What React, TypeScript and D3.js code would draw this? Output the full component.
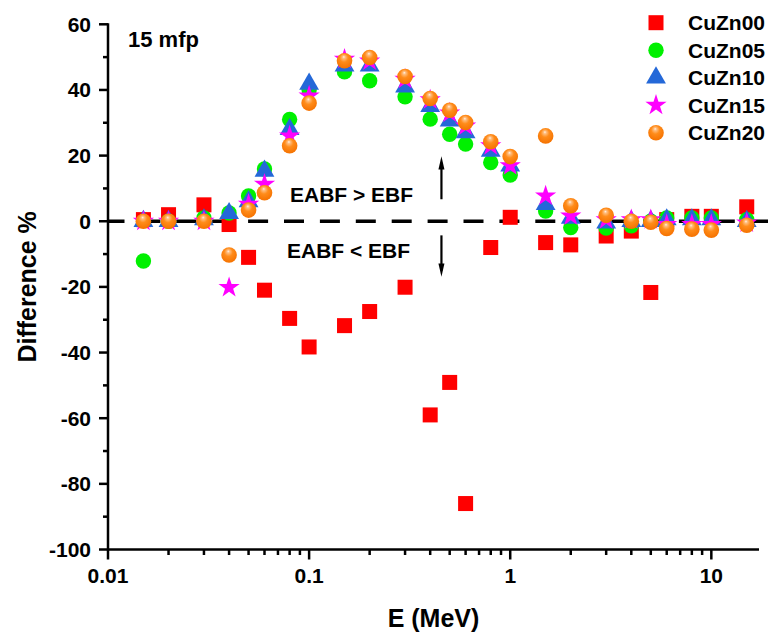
import React from "react";
import * as d3 from "d3";

const energies = [0.015, 0.02, 0.03, 0.04, 0.05, 0.06, 0.08, 0.1, 0.15, 0.2, 0.3, 0.4, 0.5, 0.6, 0.8, 1, 1.5, 2, 3, 4, 5, 6, 8, 10, 15];
const cuZn00 = [0.5, 2, 5, -1, -11, -21, -29.6, -38.3, -31.8, -27.5, -20.1, -59, -49.1, -86, -8, 1.2, -6.5, -7.2, -4.5, -3, -21.7, 0.5, 1.5, 1.5, 4.4];
const cuZn05 = [-12.1, 0, 1, 2.5, 7.7, 15.9, 31, 40, 45.5, 42.8, 37.9, 31.1, 26.5, 23.5, 17.9, 14.1, 3.1, -1.9, -2.1, -1.4, 0, 1, 1, 1, 0.5];
const cuZn10 = [0, 0, 0.5, 2.4, 6, 15.3, 28, 41.8, 47.4, 47.4, 41, 35, 30.6, 27, 21.4, 16.9, 5.2, 1, -0.5, 0, 0, 0.5, 0.5, 0.5, 0];
const cuZn15 = [0, 0, 0, -20.2, 5.2, 11.3, 26, 38.2, 49.4, 48.8, 43.3, 37, 33, 29, 23, 16.9, 7.7, 1.6, 0.5, 0.5, 0.5, -1, -1, -1, -0.5];
const cuZn20 = [0, 0, 0, -10.3, 3.4, 8.7, 23, 36, 48.9, 49.9, 44.1, 37.4, 33.8, 30.1, 24.2, 19.7, 26, 4.7, 1.8, 0, -0.3, -2.2, -2.4, -2.7, -1.2];

const seriesNames = ["CuZn00", "CuZn05", "CuZn10", "CuZn15", "CuZn20"];
const seriesValues = [cuZn00, cuZn05, cuZn10, cuZn15, cuZn20];
const seriesShapes = ["square", "circle", "triangle", "star", "ball"];
const seriesColors = ["#ff0000", "#00f000", "#2468d8", "#ff00ff", "#ff8000"];

const yMajorTicks = [60, 40, 20, 0, -20, -40, -60, -80, -100];
const xMajorTicks = [0.01, 0.1, 1, 10];
const xTickLabels = ["0.01", "0.1", "1", "10"];

const FONT = "'Liberation Sans', Arial, Helvetica, sans-serif";

function Marker({ shape, color, cx, cy }: { shape: string; color: string; cx: number; cy: number }) {
  if (shape === "square") {
    return <rect x={cx - 7.5} y={cy - 7.5} width={15} height={15} fill={color} />;
  }
  if (shape === "circle") {
    return <circle cx={cx} cy={cy} r={7.7} fill={color} />;
  }
  if (shape === "triangle") {
    const p = d3.symbol().type(d3.symbolTriangle).size(170)();
    return <path d={p || ""} transform={`translate(${cx},${cy})`} fill={color} />;
  }
  if (shape === "star") {
    const p = d3.symbol().type(d3.symbolStar).size(140)();
    return <path d={p || ""} transform={`translate(${cx},${cy})`} fill={color} />;
  }
  return <circle cx={cx} cy={cy} r={7.8} fill="url(#ballGrad)" />;
}

export default function App() {
  const left = 108, right = 759, top = 24.3, bottom = 549.5;
  const x = d3.scaleLog().domain([0.01, 17.26]).range([left, right]);
  const y = d3.scaleLinear().domain([-100, 60]).range([bottom, top]);

  const yMinor = d3.range(-90, 60, 20);
  const xMinor: number[] = [];
  [0.01, 0.1, 1, 10].forEach((d) => {
    for (let k = 2; k <= 9; k++) {
      const v = d * k;
      if (v <= 17.26) xMinor.push(v);
    }
  });

  const arrowX = x(0.455);
  const legendX = 656, legendY0 = 22.7, legendStep = 27.5;

  return (
    <svg width={770} height={635} style={{ position: "absolute", left: 0, top: 0, background: "#fff" }}>
      <defs>
        <radialGradient id="ballGrad" cx="0.48" cy="0.4" r="0.6" fx="0.45" fy="0.25">
          <stop offset="0" stopColor="#fff3e6" />
          <stop offset="0.15" stopColor="#ffbe80" />
          <stop offset="0.45" stopColor="#ff8c1a" />
          <stop offset="1" stopColor="#f57200" />
        </radialGradient>
      </defs>

      {/* zero dashed line */}
      <line x1={x(0.01)} x2={768} y1={y(0)} y2={y(0)} stroke="#000" strokeWidth={3.5}
        strokeDasharray="20,15.9" strokeDashoffset={3.5} />

      {/* data markers */}
      {seriesValues.map((vals, si) => (
        <g key={seriesNames[si]}>
          {vals.map((v, i) => (
            <Marker key={i} shape={seriesShapes[si]} color={seriesColors[si]} cx={x(energies[i])} cy={y(v)} />
          ))}
        </g>
      ))}

      {/* axes */}
      <g stroke="#000" strokeWidth={2.5} fill="none">
        <line x1={left} x2={left} y1={top - 1} y2={bottom + 1} />
        <line x1={left - 1} x2={right} y1={bottom} y2={bottom} />
        {yMajorTicks.map((t) => (
          <line key={"ym" + t} x1={left - 9} x2={left} y1={y(t)} y2={y(t)} />
        ))}
        {yMinor.map((t) => (
          <line key={"yn" + t} x1={left - 5} x2={left} y1={y(t)} y2={y(t)} />
        ))}
        {xMajorTicks.map((t) => (
          <line key={"xm" + t} x1={x(t)} x2={x(t)} y1={bottom} y2={bottom + 10} />
        ))}
        {xMinor.map((t, i) => (
          <line key={"xn" + i} x1={x(t)} x2={x(t)} y1={bottom} y2={bottom + 5.5} />
        ))}
      </g>

      <g fontFamily={FONT} fontWeight="bold" fontSize={21} fill="#000">
        {yMajorTicks.map((t) => (
          <text key={"yl" + t} x={91} y={y(t) + 7.5} textAnchor="end">{`${t}`}</text>
        ))}
        {xMajorTicks.map((t, i) => (
          <text key={"xl" + t} x={x(t)} y={583} textAnchor="middle">{xTickLabels[i]}</text>
        ))}
      </g>

      {/* axis titles */}
      <text x={433.5} y={626.5} textAnchor="middle" fontFamily={FONT} fontWeight="bold" fontSize={25}>E (MeV)</text>
      <text transform={`translate(36,${(top + bottom) / 2}) rotate(-90)`} textAnchor="middle"
        fontFamily={FONT} fontWeight="bold" fontSize={25}>Difference %</text>

      {/* annotations */}
      <text x={128} y={46.5} fontFamily={FONT} fontWeight="bold" fontSize={22}>15 mfp</text>
      <text x={290} y={201.5} fontFamily={FONT} fontWeight="bold" fontSize={21}>EABF &gt; EBF</text>
      <text x={287} y={258} fontFamily={FONT} fontWeight="bold" fontSize={21}>EABF &lt; EBF</text>

      <g stroke="#000" strokeWidth={2.2}>
        <line x1={arrowX} x2={arrowX} y1={y(6.7)} y2={y(17.5)} />
        <line x1={arrowX} x2={arrowX} y1={y(-4.3)} y2={y(-15)} />
      </g>
      <g fill="#000">
        <polygon points={`${arrowX},${y(19.8)} ${arrowX - 3},${y(15.8)} ${arrowX + 3},${y(15.8)}`} />
        <polygon points={`${arrowX},${y(-16.9)} ${arrowX - 3},${y(-12.9)} ${arrowX + 3},${y(-12.9)}`} />
      </g>

      {/* legend */}
      {seriesNames.map((name, i) => (
        <g key={"lg" + name}>
          <Marker shape={seriesShapes[i]} color={seriesColors[i]} cx={legendX} cy={legendY0 + i * legendStep} />
          <text x={688} y={legendY0 + i * legendStep + 7.5} fontFamily={FONT} fontWeight="bold" fontSize={21}>{name}</text>
        </g>
      ))}
    </svg>
  );
}
